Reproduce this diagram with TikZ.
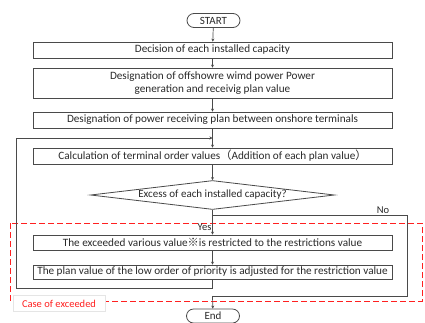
\documentclass[tikz,border=0pt]{standalone}
\usepackage{fontspec}
\setmainfont{Carlito}
\newfontfamily\cjkf{Noto Sans CJK JP}
\usetikzlibrary{shapes.misc,shapes.geometric,arrows.meta}
\definecolor{linec}{HTML}{4A4A4A}
\definecolor{txt}{HTML}{2A2A2A}
\definecolor{redd}{HTML}{FF2020}
\begin{document}
\begin{tikzpicture}[x=1pt,y=-1pt,
  box/.style={draw=linec, line width=0.8pt, minimum width=359pt, minimum height=16pt, inner sep=0pt, align=center, font=\fontsize{11.2}{13}\selectfont, text=txt},
  term/.style={draw=linec, line width=0.8pt, rounded rectangle, minimum width=53pt, minimum height=14pt, inner sep=0pt, font=\fontsize{11}{12}\selectfont, text=txt},
  dec/.style={draw=linec, line width=0.8pt, diamond, aspect=8.4, minimum width=244pt, minimum height=29pt, inner sep=0pt, font=\fontsize{11}{12}\selectfont, text=txt},
  conn/.style={draw=linec, line width=0.7pt},
  arr/.style={conn, -{Stealth[length=3pt,width=3pt]}},
  lbl/.style={font=\fontsize{10.5}{11}\selectfont, text=txt, inner sep=0pt}]
\useasboundingbox (0,0) rectangle (425,322);
\fill[white] (0,0) rectangle (425,322);
\node[term] (start) at (213.5,20.5) {START};
\node[box] (b1) at (212.5,50) {Decision of each installed capacity};
\node[box, minimum height=30pt] (b2) at (212.5,83) {Designation of offshowre wimd power Power\\generation and receivig plan value};
\node[box] (b3) at (212.5,120) {Designation of power receiving plan between onshore terminals};
\node[box] (b4) at (212.5,156) {Calculation of terminal order values{\cjkf （}Addition of each plan value{\cjkf ）}};
\node[dec] (d) at (212.5,195) {Excess of each installed capacity?};
\node[box, minimum height=15pt] (b5) at (212.5,242.5) {The exceeded various value{\cjkf ※}is restricted to the restrictions value};
\node[box, minimum height=14pt] (b6) at (212.5,272) {The plan value of the low order of priority is adjusted for the restriction value};
\node[term] (end) at (213,316) {End};
\draw[redd, line width=1pt, dash pattern=on 6pt off 3pt] (10,223) rectangle (422,301);
\node[lbl, text=redd, fill=white, draw=black!10, minimum width=92pt, minimum height=16pt] (case) at (59,303.5) {Case of exceeded};
\node[lbl] (yes) at (204.5,227) {Yes};
\node[lbl] (no) at (383,210) {No};
\coordinate (j1) at (212.5,138);
\coordinate (j2) at (212.5,215);
\coordinate (j3) at (212.5,296);
\draw[arr] (start) -- (b1);
\draw[arr] (b1) -- (b2);
\draw[arr] (b2) -- (b3);
\draw[arr] (b3) -- (b4);
\draw[arr] (b4) -- (d);
\draw[arr] (d) -- (b5);
\draw[arr] (b5) -- (b6);
\draw[arr] (b6.south) -- ++(0,9) -| (16,138) -- (j1);
\draw[conn] (j2) -| (407,296) -- (j3);
\draw[arr] (j3) -- (end);
\end{tikzpicture}
\end{document}
